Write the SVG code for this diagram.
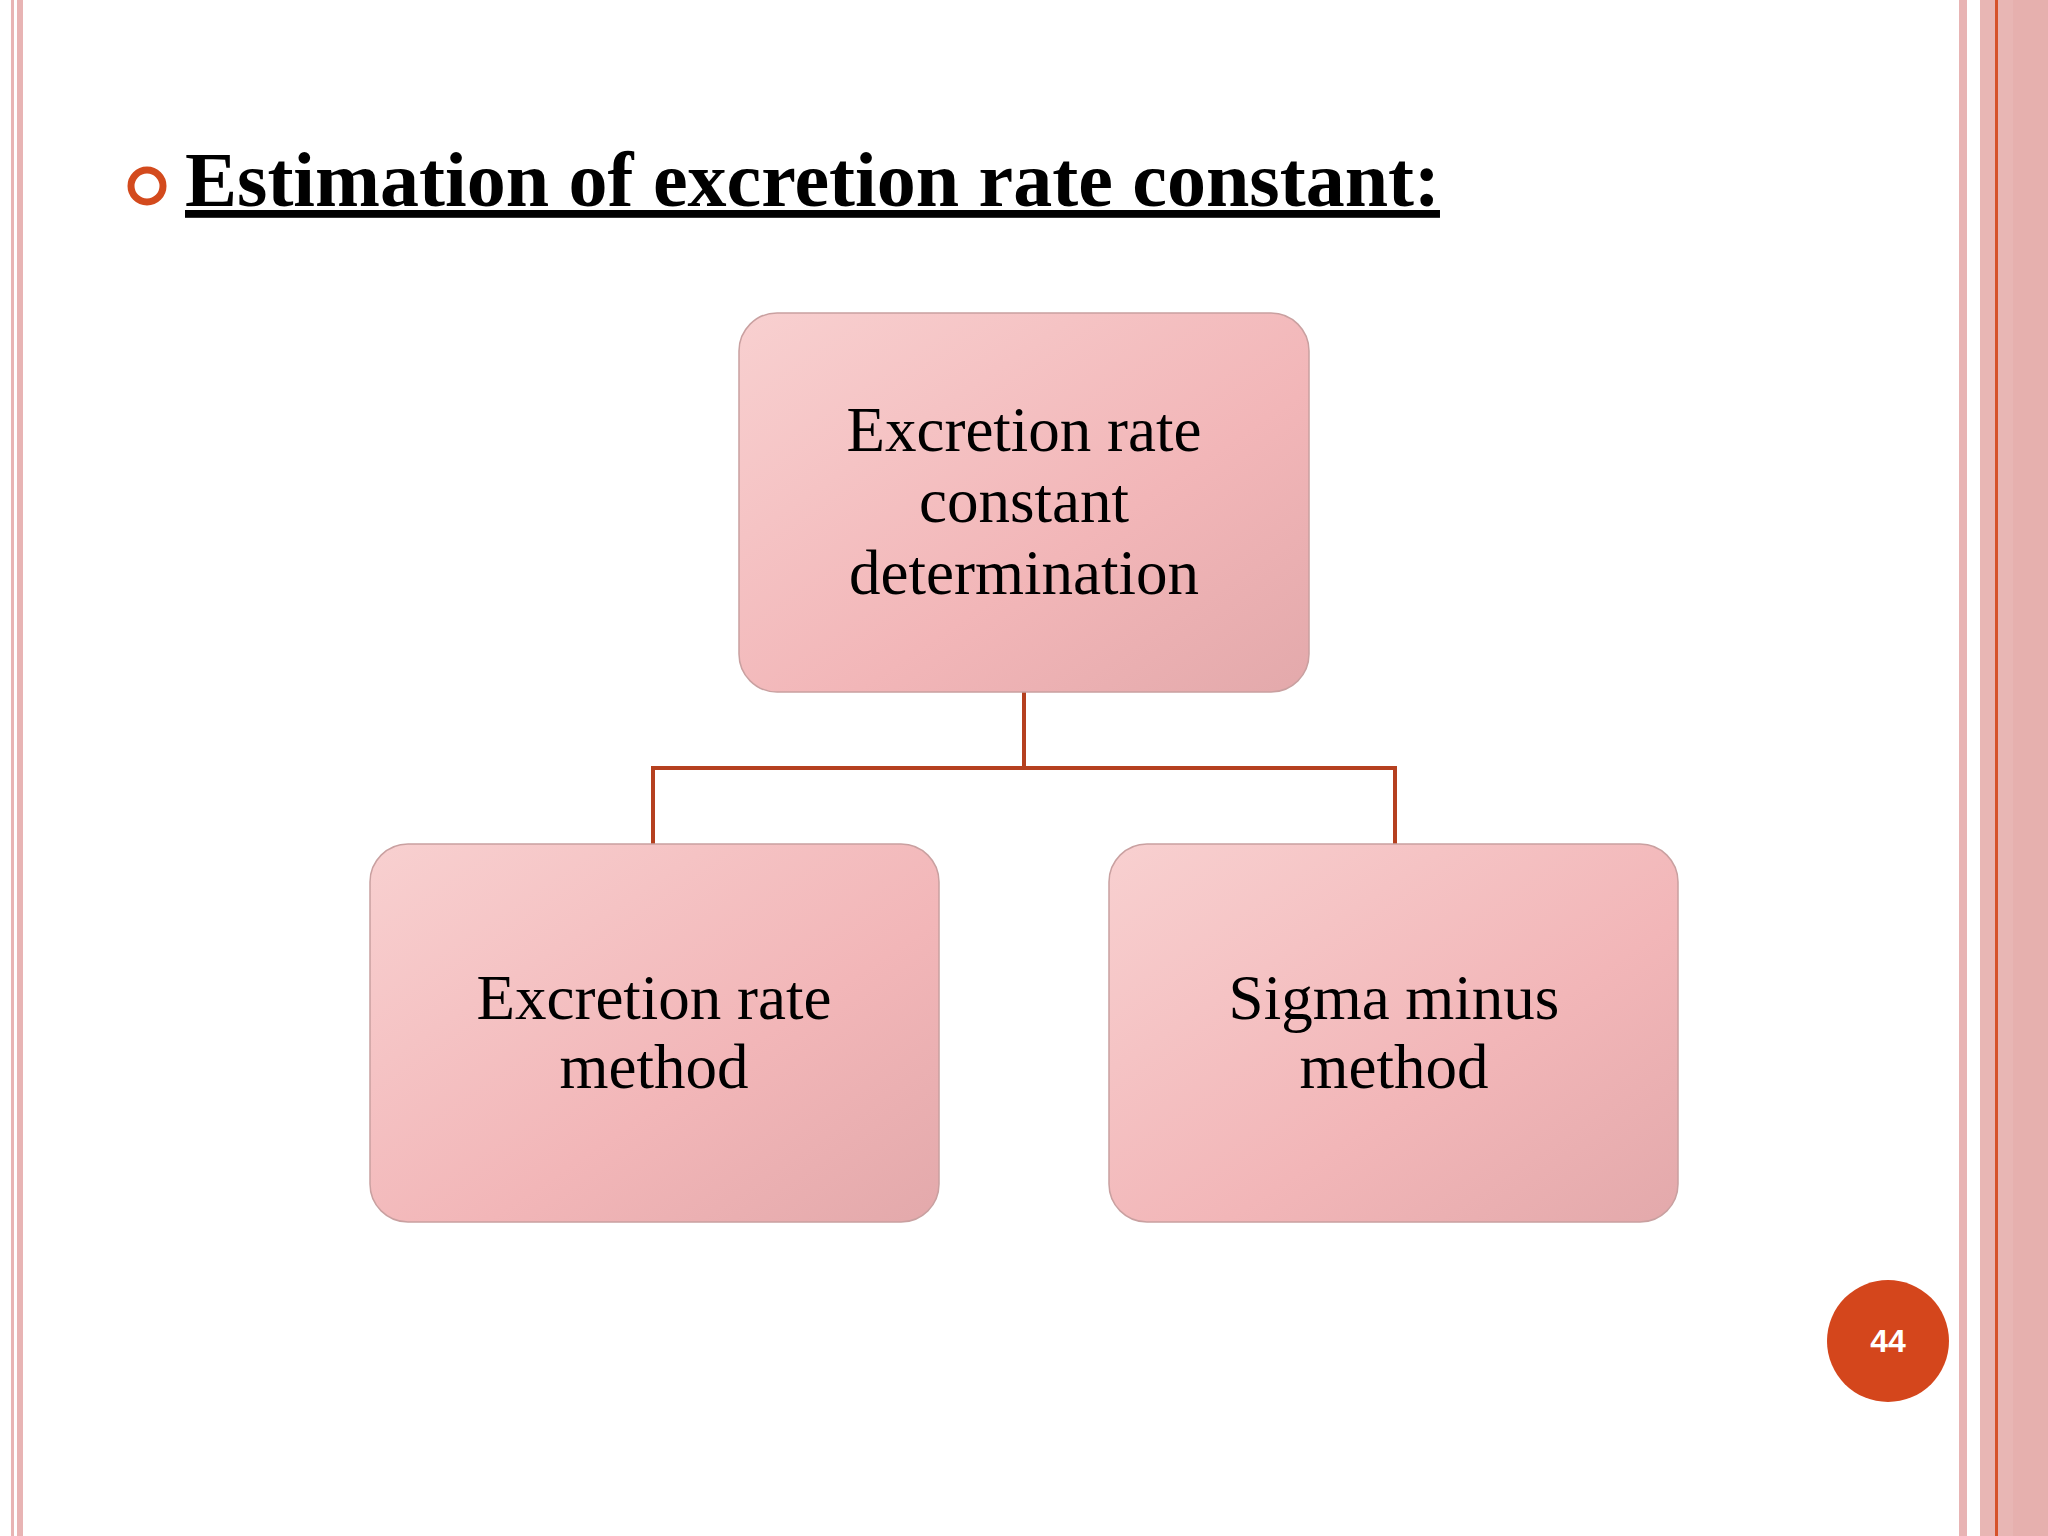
<svg xmlns="http://www.w3.org/2000/svg" width="2048" height="1536" viewBox="0 0 2048 1536">
<defs>
<linearGradient id="g" x1="0" y1="0" x2="1" y2="1">
<stop offset="0" stop-color="#f8d0d0"/><stop offset="0.6" stop-color="#f2b6b8"/><stop offset="1" stop-color="#e3a9ab"/>
</linearGradient>
<style>
.box{fill:url(#g);stroke:#c9a0a0;stroke-width:1.5}
.t{font-family:"Liberation Serif",serif;font-size:63px;fill:#000;text-anchor:middle}
.c{fill:none;stroke:#b5401f;stroke-width:4}
</style>
</defs>
<rect width="2048" height="1536" fill="#fff"/>
<rect x="11" y="0" width="3" height="1536" fill="#e8b4b4"/>
<rect x="17" y="0" width="6" height="1536" fill="#e8b4b4"/>
<rect x="1959" y="0" width="8" height="1536" fill="#e8b4b4"/>
<rect x="1980" y="0" width="68" height="1536" fill="#e8b6b4"/>
<rect x="2013" y="0" width="35" height="1536" fill="#e6b0ae"/>
<rect x="1995" y="0" width="3" height="1536" fill="#d6522a"/>
<circle cx="147" cy="186" r="16" fill="none" stroke="#d34a1d" stroke-width="7"/>
<text x="185" y="206" font-family="Liberation Serif,serif" font-weight="bold" font-size="78" text-decoration="underline">Estimation of  excretion rate constant:</text>
<g id="connectors">
<path class="c" d="M1024 692V768M653 844V768H1395V844"/>
</g>
<g id="n1"><rect class="box" x="739" y="313" width="570" height="379" rx="38"/>
<text class="t" x="1024" y="451">Excretion rate</text><text class="t" x="1024" y="522">constant</text><text class="t" x="1024" y="594">determination</text></g>
<g id="n2"><rect class="box" x="370" y="844" width="569" height="378" rx="38"/>
<text class="t" x="654" y="1019">Excretion rate</text><text class="t" x="654" y="1088">method</text></g>
<g id="n3"><rect class="box" x="1109" y="844" width="569" height="378" rx="38"/>
<text class="t" x="1394" y="1019">Sigma minus</text><text class="t" x="1394" y="1088">method</text></g>
<circle cx="1888" cy="1341" r="61" fill="#d4461c"/>
<text x="1888" y="1352" font-family="Liberation Sans,sans-serif" font-weight="bold" font-size="32" fill="#fff" text-anchor="middle">44</text>
</svg>
